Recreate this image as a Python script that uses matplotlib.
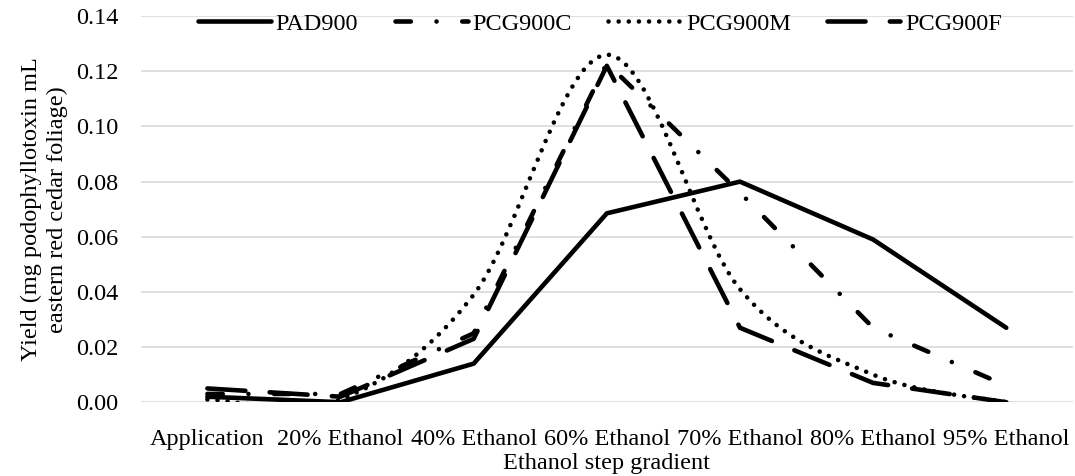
import numpy as np
import matplotlib
matplotlib.use("Agg")
import matplotlib.pyplot as plt
from matplotlib.path import Path
from matplotlib.patches import PathPatch
from matplotlib.lines import Line2D

plt.rcParams['font.family'] = ['Liberation Serif', 'DejaVu Serif']

# categories along the gradient
steps = ["Application", "20% Ethanol", "40% Ethanol", "60% Ethanol",
         "70% Ethanol", "80% Ethanol", "95% Ethanol"]

# yields
pad900 = [0.002, 0.000, 0.014, 0.0685, 0.080, 0.059, 0.027]
pcg900c = [0.003, 0.003, 0.025, 0.123, 0.076, 0.027, 0.006]
pcg900m = [0.001, 0.001, 0.039, 0.126, 0.041, 0.010, 0.000]
pcg900f = [0.005, 0.002, 0.023, 0.122, 0.027, 0.007, 0.000]

yticks = [0.00, 0.02, 0.04, 0.06, 0.08, 0.10, 0.12, 0.14]

FS = 17.5
LW = 3.3
sty_solid = '-'
sty_dashdot = (0, (3.35, 5.6, 0.01, 5.6))
sty_dot = (0, (0.01, 2.2))
sty_longdash = (0, (8.3, 5.3))


def smooth_path(x, y):
    # excel style smoothed line: cubic bezier through each point
    x = np.asarray(x, float)
    y = np.asarray(y, float)
    pts = np.column_stack([x, y])
    n = len(pts)
    verts = [pts[0]]
    codes = [Path.MOVETO]
    for i in range(n - 1):
        p0 = pts[i - 1] if i > 0 else pts[i]
        p1 = pts[i]
        p2 = pts[i + 1]
        p3 = pts[i + 2] if i + 2 < n else pts[i + 1]
        c1 = p1 + (p2 - p0) / 6.0
        c2 = p2 - (p3 - p1) / 6.0
        verts += [c1, c2, p2]
        codes += [Path.CURVE4] * 3
    return Path(verts, codes)


fig = plt.figure(figsize=(10.75, 4.76), dpi=100)
ax = fig.add_axes([0.131, 0.155, 0.867, 0.811])

x = np.arange(len(steps))

ax.plot(x, pad900, color='black', lw=LW, ls=sty_solid,
        solid_joinstyle='round', solid_capstyle='round', zorder=3)
ax.plot(x, pcg900c, color='black', lw=LW, ls=sty_dashdot,
        dash_capstyle='round', dash_joinstyle='round', zorder=3)
ax.add_patch(PathPatch(smooth_path(x, pcg900m), fill=False, edgecolor='black',
                       lw=LW, ls=sty_dot, capstyle='round', joinstyle='round',
                       zorder=3))
ax.plot(x, pcg900f, color='black', lw=LW, ls=sty_longdash,
        dash_capstyle='round', dash_joinstyle='round', zorder=3)

ax.set_xlim(-0.5, len(steps) - 0.5)
ax.set_ylim(0, 0.14)
ax.set_yticks(yticks)
ax.set_yticklabels([f"{v:.2f}" for v in yticks])
ax.set_xticks(x)
ax.set_xticklabels(steps)
ax.tick_params(length=0, labelsize=FS, colors='black')
ax.tick_params(axis='y', pad=16)
ax.tick_params(axis='x', pad=19)
ax.grid(axis='y', color='#d9d9d9', lw=1.2, zorder=0)
for s in ax.spines.values():
    s.set_visible(False)

ax.set_xlabel("Ethanol step gradient", fontsize=FS, labelpad=2.5)
ax.set_ylabel("Yield (mg podophyllotoxin mL\neastern red cedar foliage)",
              fontsize=FS, labelpad=6, linespacing=1.3)

handles = [
    Line2D([], [], color='black', lw=LW, ls=sty_solid, solid_capstyle='round'),
    Line2D([], [], color='black', lw=LW, ls=sty_dashdot, dash_capstyle='round'),
    Line2D([], [], color='black', lw=LW, ls=sty_dot, dash_capstyle='round'),
    Line2D([], [], color='black', lw=LW, ls=sty_longdash, dash_capstyle='round'),
]
fig.legend(handles, ["PAD900", "PCG900C", "PCG900M", "PCG900F"],
           loc='center', bbox_to_anchor=(0.558, 0.950), ncol=4, frameon=False,
           fontsize=FS, handlelength=3.0, handletextpad=0.2,
           columnspacing=1.5)

fig.savefig("out.png", dpi=100)
